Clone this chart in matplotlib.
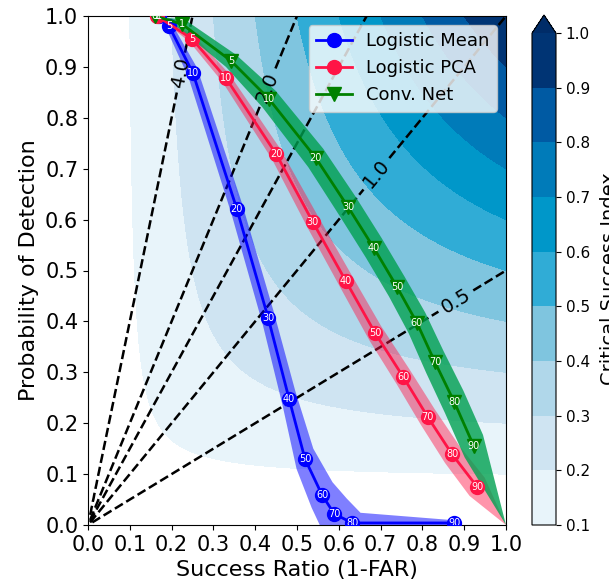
import matplotlib.pyplot as plt
import numpy as np
from matplotlib.colors import ListedColormap

# percentile thresholds shown in the markers
thr_mean = [1, 5, 10, 20, 30, 40, 50, 60, 70, 80, 90]
mean_sr = [0.170, 0.194, 0.251, 0.356, 0.431, 0.481, 0.519, 0.560, 0.589, 0.632, 0.876]
mean_pod = [1.000, 0.980, 0.888, 0.621, 0.407, 0.248, 0.130, 0.059, 0.022, 0.004, 0.004]
mean_ci = [0.000, 0.006, 0.010, 0.012, 0.013, 0.015, 0.020, 0.025, 0.030, 0.020, 0.005]

thr_pca = [1, 5, 10, 20, 30, 40, 50, 60, 70, 80, 90, 100]
pca_sr = [0.165, 0.249, 0.330, 0.450, 0.538, 0.617, 0.687, 0.754, 0.813, 0.871, 0.931, 1.0]
pca_pod = [1.000, 0.955, 0.878, 0.729, 0.595, 0.479, 0.377, 0.291, 0.212, 0.139, 0.075, 0.0]
pca_ci = [0.000, 0.006, 0.008, 0.010, 0.012, 0.013, 0.014, 0.015, 0.016, 0.017, 0.018, 0.0]

thr_conv = [0, 1, 5, 10, 20, 30, 40, 50, 60, 70, 80, 90, 100]
conv_sr = [0.160, 0.225, 0.342, 0.433, 0.545, 0.622, 0.684, 0.739, 0.787, 0.830, 0.876, 0.923, 1.0]
conv_pod = [1.000, 0.984, 0.912, 0.837, 0.721, 0.625, 0.544, 0.468, 0.397, 0.320, 0.242, 0.155, 0.0]
conv_ci = [0.000, 0.008, 0.012, 0.016, 0.018, 0.019, 0.019, 0.019, 0.020, 0.021, 0.022, 0.022, 0.0]

csi_colors = ["#e8f4fa", "#cfe4f2", "#b0d7ea", "#7fc5df", "#30acd6",
              "#0097c9", "#007bb9", "#005aa3", "#003474"]
csi_levels = np.arange(0.1, 1.05, 0.1)
bias_labeled = [0.5, 1.0, 2.0, 4.0]
bias_plain = [1.5]

fig = plt.figure(figsize=(6.09, 5.86), dpi=100)
ax = fig.add_axes([88/609, 1-525/586, 418/609, 509/586])
cax = fig.add_axes([532/609, 1-525/586, 24/609, 510/586])

grid = np.linspace(0.005, 1, 300)
sr_g, pod_g = np.meshgrid(grid, grid)
csi = 1.0 / (1.0 / sr_g + 1.0 / pod_g - 1.0)
bias = pod_g / sr_g

cmap = ListedColormap(csi_colors)
cmap.set_over("#002c68")
cs = ax.contourf(sr_g, pod_g, csi, csi_levels, cmap=cmap, extend="max")
ax.contour(sr_g, pod_g, bias, bias_plain, colors="k", linestyles="dashed", linewidths=1.8)
bc = ax.contour(sr_g, pod_g, bias, bias_labeled, colors="k", linestyles="dashed", linewidths=1.8)
ax.clabel(bc, fmt="%1.1f", fontsize=14,
          manual=[(0.215, 0.89), (0.43, 0.86), (0.69, 0.69), (0.88, 0.44)])

cb = fig.colorbar(cs, cax=cax, extendfrac=0.037)
cb.set_ticks(np.arange(0.1, 1.05, 0.1))
cb.ax.tick_params(labelsize=11)
cb.set_label("Critical Success Index", fontsize=14, labelpad=7)


def draw(thr, sr, pod, ci, color, band, alpha, marker, label):
    sr = np.array(sr); pod = np.array(pod); ci = np.array(ci)
    xs = np.concatenate([sr - ci, (sr + ci)[::-1]])
    ys = np.concatenate([pod - ci, (pod + ci)[::-1]])
    ax.fill(xs, ys, color=band, alpha=alpha, lw=0, zorder=3)
    keep = np.array(thr) < 100
    ax.plot(sr[keep], pod[keep], color=color, lw=2, marker=marker, markersize=10,
            markeredgecolor=color, label=label, zorder=4)
    for t, x, y in zip(np.array(thr)[keep], sr[keep], pod[keep]):
        ax.text(x, y, str(t), color="white", fontsize=7, ha="center", va="center",
                zorder=5, clip_on=True)


draw(thr_mean, mean_sr, mean_pod, mean_ci, "blue", "blue", 0.5, "o", "Logistic Mean")
draw(thr_pca, pca_sr, pca_pod, pca_ci, "#ff1446", "#ff1446", 0.45, "o", "Logistic PCA")
draw(thr_conv, conv_sr, conv_pod, conv_ci, "green", "#00a050", 0.8, "v", "Conv. Net")

ax.set_xlim(0, 1)
ax.set_ylim(0, 1)
ax.set_xticks(np.arange(0, 1.05, 0.1))
ax.set_yticks(np.arange(0, 1.05, 0.1))
ax.tick_params(labelsize=15)
ax.set_xlabel("Success Ratio (1-FAR)", fontsize=16)
ax.set_ylabel("Probability of Detection", fontsize=16)
ax.legend(loc="upper right", fontsize=13)

fig.savefig("out.png", dpi=100)
